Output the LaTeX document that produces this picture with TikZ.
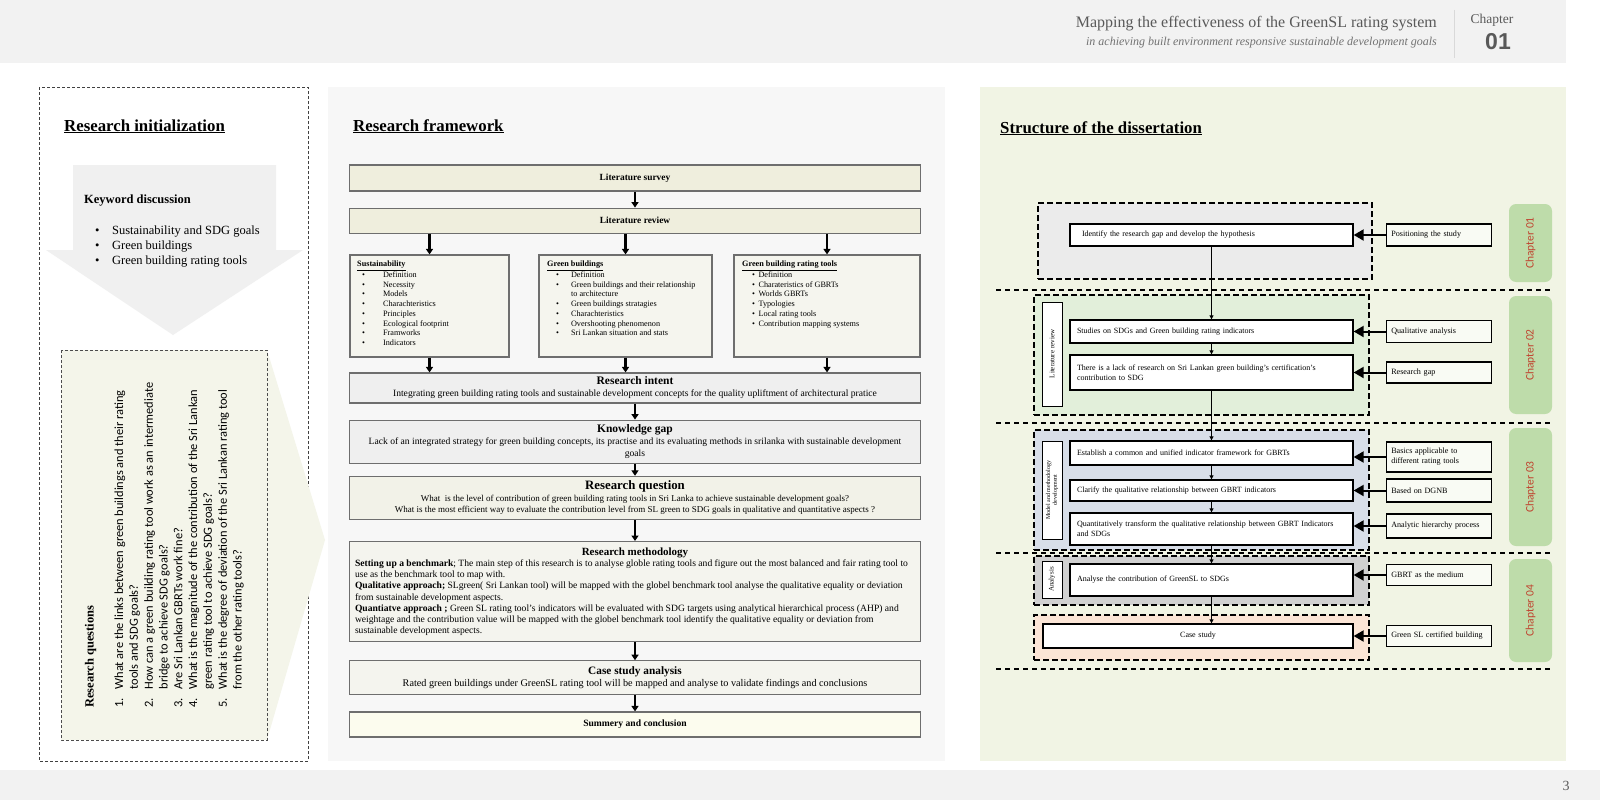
\documentclass[tikz,border=0pt]{standalone}
\usepackage{fontspec}
\setmainfont{Liberation Serif}
\newfontfamily\calibri{Carlito}
\newfontfamily\arialfont{Liberation Sans}
\usetikzlibrary{arrows.meta,positioning}
\definecolor{bandgray}{HTML}{F2F2F2}
\definecolor{headtext}{HTML}{595959}
\definecolor{midbg}{HTML}{F7F7F7}
\definecolor{rightbg}{HTML}{F1F4E4}
\definecolor{kwarrow}{HTML}{F0F0F0}
\definecolor{rqfill}{HTML}{F4F5EA}
\definecolor{litfill}{HTML}{EFEEDD}
\definecolor{catfill}{HTML}{F5F5EE}
\definecolor{intentfill}{HTML}{EFEFEF}
\definecolor{questfill}{HTML}{F2F2E8}
\definecolor{methfill}{HTML}{F4F4EE}
\definecolor{sumfill}{HTML}{FCFCEE}
\definecolor{boxline}{HTML}{6E6E6E}
\definecolor{grpgray}{HTML}{EBEBEB}
\definecolor{grpgreen}{HTML}{E2EFDA}
\definecolor{grpblue}{HTML}{D8DEE8}
\definecolor{grpdark}{HTML}{D0D0D0}
\definecolor{grppeach}{HTML}{FBE5D6}
\definecolor{tagfill}{HTML}{BEDCAA}
\definecolor{tagtext}{HTML}{C0432F}

\begin{document}
\begin{tikzpicture}[
    x=1pt, y=-1pt,
    >={Triangle[width=7pt,length=5.5pt]},
    panelhead/.style={anchor=base west, inner sep=0pt, font=\fontsize{16.8}{20}\selectfont\bfseries},
    fwbox/.style={draw=boxline, line width=1.2pt, minimum width=571pt, inner sep=1pt, align=center, font=\fontsize{9.6}{12}\selectfont},
    catbox/.style={draw=boxline, line width=1.2pt, fill=catfill, minimum height=102pt},
    cattext/.style={anchor=north west, inner sep=0pt, font=\fontsize{8.2}{9.7}\selectfont},
    flow/.style={->, line width=2.2pt},
    mainbox/.style={draw, line width=1.3pt, fill=white, text width=269pt, inner xsep=7pt, inner ysep=1pt, align=left, font=\fontsize{8}{10}\selectfont},
    sidebox/.style={draw, line width=1.3pt, fill=white!60!rightbg, text width=95pt, inner xsep=5pt, inner ysep=1pt, align=left, minimum height=22pt, font=\fontsize{8.1}{10}\selectfont},
    sidelabel/.style={draw, line width=0.9pt, fill=white, rotate=90, minimum height=20pt, inner sep=1pt, font=\fontsize{7}{7.5}\selectfont},
    grp/.style={draw, line width=2.2pt, dash pattern=on 6pt off 3pt, minimum width=335pt},
    chaptag/.style={fill=tagfill, rounded corners=7pt, rotate=90, minimum height=43pt, text=tagtext, font=\calibri\fontsize{11.5}{13}\selectfont},
    feed/.style={-{Triangle[width=11pt,length=10pt]}, line width=2pt},
    chainarrow/.style={-{Triangle[width=4pt,length=4pt]}, line width=0.9pt},
    chapsep/.style={line width=1.2pt, dash pattern=on 5pt off 4pt}
]
\useasboundingbox (0,0) rectangle (1600,800);
\fill[white] (0,0) rectangle (1600,800);

\fill[bandgray] (0,0) rectangle (1566,63);
\fill[bandgray] (0,770) rectangle (1600,800);
\node[anchor=base east, inner sep=0pt, text=headtext, font=\fontsize{16}{18}\selectfont] (title) at (1437,28) {Mapping the effectiveness of the GreenSL rating system};
\node[anchor=base east, inner sep=0pt, text=headtext!85, font=\fontsize{12}{14}\selectfont\itshape] (subtitle) at (1437,46) {in achieving built environment responsive sustainable development goals};
\draw[black!15, line width=1pt] (1454,10) -- (1454,58);
\node[text=headtext, font=\fontsize{13.5}{15}\selectfont] (chap) at (1492,20) {Chapter};
\node[text=headtext, font=\arialfont\fontsize{23}{25}\selectfont\bfseries] (chapnum) at (1498,42) {01};
\node[text=headtext, font=\fontsize{14}{16}\selectfont] (pagenum) at (1566,786) {3};

\draw[black!75, line width=0.8pt, dash pattern=on 3pt off 2pt] (39,87) rectangle (308,761);
\node[panelhead] (inithead) at (64,131) {\underline{Research initialization}};
\fill[kwarrow] (73,165) -- (276,165) -- (276,250) -- (303,250) -- (173,335) -- (46,250) -- (73,250) -- cycle;
\node[anchor=base west, inner sep=0pt, font=\fontsize{12.5}{14}\selectfont\bfseries] (kwhead) at (84,203) {Keyword discussion};
\node[anchor=north west, inner sep=0pt, font=\fontsize{12.5}{15}\selectfont] (kwlist) at (95,223.5) {\begin{tabular}{@{}l@{\hspace{12.5pt}}l@{}}
\textbullet & Sustainability and SDG goals\\
\textbullet & Green buildings\\
\textbullet & Green building rating tools
\end{tabular}};
\fill[rqfill] (267,350) -- (325,540) -- (267,740) -- cycle;
\draw[fill=rqfill, draw=black!70, line width=0.8pt, dash pattern=on 3pt off 2pt] (61,350) rectangle (267,740);
\node[rotate=90, anchor=north west, inner sep=0pt, font=\calibri\fontsize{12.4}{14.8}\selectfont] (rqlist) at (83,708) {\begin{tabular}{@{}l@{\hspace{9pt}}l@{}}
\multicolumn{2}{@{}l}{\rmfamily\fontsize{12.5}{14.8}\selectfont\bfseries Research questions}\\[14.8pt]
1. & What are the links between green buildings and their rating\\
   & tools and SDG goals?\\
2. & How can a green building rating tool work as an intermediate\\
   & bridge to achieve SDG goals?\\
3. & Are Sri Lankan GBRTs work fine?\\
4. & What is the magnitude of the contribution of the Sri Lankan\\
   & green rating tool to achieve SDG goals?\\
5. & What is the degree of deviation of the Sri Lankan rating tool\\
   & from the other rating tools?
\end{tabular}};

\fill[midbg] (328,87) rectangle (945,761);
\node[panelhead] (fwhead) at (353,131) {\underline{Research framework}};
\node[fwbox, fill=litfill, minimum height=26pt] (survey) at (635,178) {\fontsize{9.4}{11}\selectfont\bfseries Literature survey};
\node[fwbox, fill=litfill, minimum height=25pt, below=16pt of survey] (review) {\fontsize{9.4}{11}\selectfont\bfseries Literature review};
\node[catbox, minimum width=159pt] (sust) at (429.5,306) {};
\node[catbox, minimum width=173pt] (green) at (625.5,306) {};
\node[catbox, minimum width=186pt] (gbrt) at (827,306) {};
\node[cattext] (susttext) at (357,260) {\begin{tabular}{@{\hspace{5pt}}c@{\hspace{18pt}}l@{}}
\multicolumn{2}{@{}l}{\underline{\textbf{Sustainability}}}\\
\textbullet & Definition\\
\textbullet & Necessity\\
\textbullet & Models\\
\textbullet & Charachteristics\\
\textbullet & Principles\\
\textbullet & Ecological footprint\\
\textbullet & Framworks\\
\textbullet & Indicators
\end{tabular}};
\node[cattext] (greentext) at (547,260) {\begin{tabular}{@{\hspace{9pt}}c@{\hspace{12pt}}l@{}}
\multicolumn{2}{@{}l}{\underline{\textbf{Green buildings}}}\\
\textbullet & Definition\\
\textbullet & Green buildings and their relationship\\
            & to architecture\\
\textbullet & Green buildings stratagies\\
\textbullet & Charachteristics\\
\textbullet & Overshooting phenomenon\\
\textbullet & Sri Lankan situation and stats
\end{tabular}};
\node[cattext] (gbrttext) at (742,260) {\begin{tabular}{@{\hspace{10pt}}c@{\hspace{3.5pt}}l@{}}
\multicolumn{2}{@{}l}{\underline{\textbf{Green building rating tools}}}\\
\textbullet & Definition\\
\textbullet & Charateristics of GBRTs\\
\textbullet & Worlds GBRTs\\
\textbullet & Typologies\\
\textbullet & Local rating tools\\
\textbullet & Contribution mapping systems
\end{tabular}};
\node[fwbox, fill=intentfill, minimum height=30pt] (intent) at (635,388) {{\fontsize{11.5}{12}\selectfont\bfseries Research intent}\\
Integrating green building rating tools and sustainable development concepts for the quality upliftment of architectural pratice};
\node[fwbox, fill=intentfill, minimum height=43pt, below=16pt of intent] (gap) {{\fontsize{11.5}{12}\selectfont\bfseries Knowledge gap}\\
Lack of an integrated strategy for green building concepts, its practise and its evaluating methods in srilanka with sustainable development\\
goals};
\node[fwbox, fill=questfill, minimum height=43pt, below=12pt of gap, font=\fontsize{9}{11.5}\selectfont] (question) {{\fontsize{12.8}{13}\selectfont\bfseries Research question}\\
What\ \ is the level of contribution of green building rating tools in Sri Lanka to achieve sustainable development goals?\\
What is the most efficient way to evaluate the contribution level from SL green to SDG goals in qualitative and quantitative aspects ?};
\node[fwbox, fill=methfill, minimum height=100pt, below=21pt of question, align=left, font=\fontsize{9.6}{11.2}\selectfont] (method) {\makebox[560pt]{\fontsize{11}{12}\selectfont\bfseries Research methodology}\\
\textbf{Setting up a benchmark}; The main step of this research is to analyse globle rating tools and figure out the most balanced and fair rating tool to\\
use as the benchmark tool to map with.\\
\textbf{Qualitative approach;} SLgreen( Sri Lankan tool) will be mapped with the globel benchmark tool analyse the qualitative equality or deviation\\
from sustainable development aspects.\\
\textbf{Quantiatve approach ;} Green SL rating tool's indicators will be evaluated with SDG targets using analytical hierarchical process (AHP) and\\
weightage and the contribution value will be mapped with the globel benchmark tool identify the qualitative equality or deviation from\\
sustainable development aspects.};
\node[fwbox, fill=methfill, minimum height=34pt, below=18pt of method, font=\fontsize{10.2}{12}\selectfont] (casestudy) {{\fontsize{11.3}{13}\selectfont\bfseries Case study analysis}\\
Rated green buildings under GreenSL rating tool will be mapped and analyse to validate findings and conclusions};
\node[fwbox, fill=sumfill, minimum height=25pt, below=16pt of casestudy] (summary) {\fontsize{9.6}{11}\selectfont\bfseries Summery and conclusion};

\draw[flow] (survey) -- (review);
\draw[flow] (review.south -| sust.north) -- (sust.north);
\draw[flow] (review.south -| green.north) -- (green.north);
\draw[flow] (review.south -| gbrt.north) -- (gbrt.north);
\draw[flow] (sust.south) -- (sust.south |- intent.north);
\draw[flow] (green.south) -- (green.south |- intent.north);
\draw[flow] (gbrt.south) -- (gbrt.south |- intent.north);
\draw[flow] (intent) -- (gap);
\draw[flow] (gap) -- (question);
\draw[flow] (question) -- (method);
\draw[flow] (method) -- (casestudy);
\draw[flow] (casestudy) -- (summary);

\fill[rightbg] (980,87) rectangle (1566,761);
\node[panelhead] (structhead) at (1000,133) {\underline{Structure of the dissertation}};
\node[grp, fill=grpgray, minimum width=334pt, minimum height=76pt] (grp1) at (1205,241) {};
\node[grp, fill=grpgreen, minimum height=120pt] (grp2) at (1201.5,355) {};
\node[grp, fill=grpblue, minimum height=120pt] (grp3) at (1201.5,490) {};
\node[grp, fill=grpdark, minimum height=49pt] (grp4) at (1201.5,580.5) {};
\node[grp, fill=grppeach, minimum height=45pt] (grp5) at (1201.5,637.5) {};
\foreach \y in {290,423,553,669}
    \draw[chapsep] (996,\y) -- (1552,\y);

\node[mainbox, minimum height=22pt] (ident) at (1211.5,235) {\hspace{5pt}Identify the research gap and develop the hypothesis};
\node[mainbox, minimum height=23pt] (studies) at (1211.5,331.5) {Studies on SDGs and Green building rating indicators};
\node[mainbox, minimum height=35pt] (lack) at (1211.5,372.5) {There is a lack of research on Sri Lankan green building's certification's\\contribution to SDG};
\node[mainbox, minimum height=24pt] (establish) at (1211.5,453) {Establish a common and unified indicator framework for GBRTs};
\node[mainbox, minimum height=21pt] (clarify) at (1211.5,490.5) {Clarify the qualitative relationship between GBRT indicators};
\node[mainbox, minimum height=32pt] (quant) at (1211.5,529) {Quantitatively transform the qualitative relationship between GBRT Indicators\\and SDGs};
\node[mainbox, minimum height=32pt] (analyse) at (1211.5,580) {Analyse the contribution of GreenSL to SDGs};
\node[mainbox, text width=296pt, align=center, minimum height=24pt] (casework) at (1198,636) {Case study};

\node[sidebox, right=32pt of ident] (position) {Positioning the study};
\node[sidebox, right=32pt of studies] (qual) {Qualitative analysis};
\node[sidebox, minimum height=21pt, right=32pt of lack] (rgap) {Research gap};
\node[sidebox, minimum height=30pt, right=32pt of establish, yshift=-4pt] (basics) {Basics applicable to\\different rating tools};
\node[sidebox, minimum height=23pt, right=32pt of clarify] (dgnb) {Based on DGNB};
\node[sidebox, minimum height=24pt, right=32pt of quant, yshift=3pt] (ahp) {Analytic hierarchy process};
\node[sidebox, minimum height=21pt, right=32pt of analyse, yshift=5pt] (medium) {GBRT as the medium};
\node[sidebox, minimum height=21pt, right=32pt of casework] (certified) {Green SL certified building};

\node[sidelabel, minimum width=104pt] (litlabel) at (1052,354) {Literature review};
\node[sidelabel, minimum width=98pt, align=center, font=\fontsize{6}{6.6}\selectfont] (modellabel) at (1052,490) {Model and methodology\\development};
\node[sidelabel, minimum width=37pt] (analysislabel) at (1052,579.5) {Analysis};

\draw[feed] (position.west) -- (position.west -| ident.east);
\draw[feed] (qual.west) -- (qual.west -| studies.east);
\draw[feed] (rgap.west) -- (rgap.west -| lack.east);
\draw[feed] (basics.west) -- (basics.west -| establish.east);
\draw[feed] (dgnb.west) -- (dgnb.west -| clarify.east);
\draw[feed] (ahp.west) -- (ahp.west -| quant.east);
\draw[feed] (medium.west) -- (medium.west -| analyse.east);
\draw[feed] (certified.west) -- (certified.west -| casework.east);

\draw[chainarrow] (ident) -- (studies);
\draw[chainarrow] (studies) -- (lack);
\draw[chainarrow] (lack) -- (establish);
\draw[chainarrow] (establish) -- (clarify);
\draw[chainarrow] (clarify) -- (quant);
\draw[chainarrow] (quant) -- (analyse);
\draw[chainarrow] (analyse.south) -- (analyse.south |- casework.north);

\node[chaptag, minimum width=78pt] (tag1) at (1530.5,243) {Chapter 01};
\node[chaptag, minimum width=118pt] (tag2) at (1530.5,355) {Chapter 02};
\node[chaptag, minimum width=118pt] (tag3) at (1530.5,487) {Chapter 03};
\node[chaptag, minimum width=103pt] (tag4) at (1530.5,610.5) {Chapter 04};
\end{tikzpicture}
\end{document}
